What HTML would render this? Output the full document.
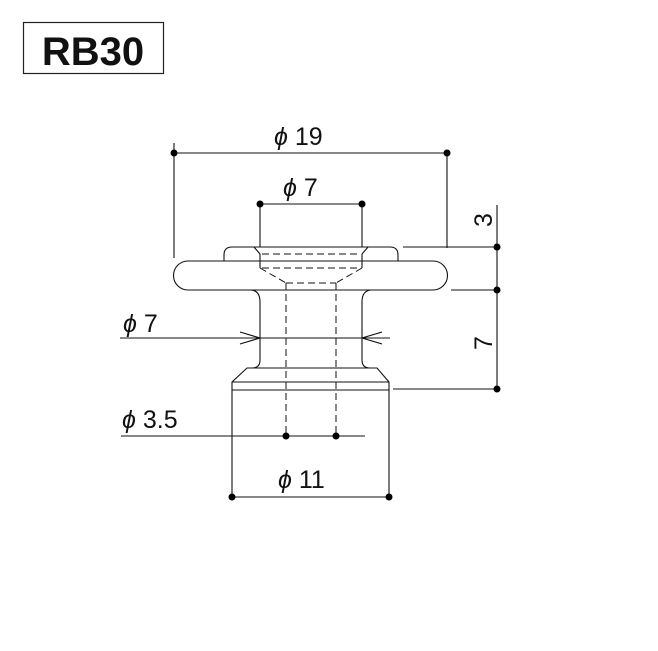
<!DOCTYPE html>
<html><head><style>
body{margin:0;background:#fff;}
svg{display:block;}
text{font-family:"Liberation Sans","DejaVu Sans",sans-serif;fill:#111;}
</style></head><body>
<svg width="658" height="651" viewBox="0 0 658 651" xmlns="http://www.w3.org/2000/svg">
<rect x="23.5" y="22.5" width="140" height="51" fill="#fff" stroke="#222" stroke-width="1.2"/>
<text x="93" y="65" font-size="40" font-weight="bold" text-anchor="middle">RB30</text>
<g stroke="#111" stroke-width="1.1" fill="none">
<line x1="174" y1="143" x2="174" y2="258"/>
<line x1="447" y1="153" x2="447" y2="248"/>
<line x1="174" y1="153" x2="447" y2="153"/>
<line x1="260" y1="204" x2="260" y2="247"/>
<line x1="362" y1="204" x2="362" y2="247"/>
<line x1="260" y1="204" x2="362" y2="204"/>
<path d="M224,261 L224,255 Q224,247 232,247 L390,247 Q398,247 398,255 L398,261"/>
<path d="M188,261 L433,261 A14.5,14.5 0 0 1 433,290 L188,290 A14.5,14.5 0 0 1 188,261 Z"/>
<line x1="254" y1="247" x2="260" y2="254"/>
<line x1="368" y1="247" x2="362" y2="254"/>
<line x1="260" y1="254" x2="260" y2="268"/>
<line x1="362" y1="254" x2="362" y2="268"/>
<path d="M250,290 Q260,290 260,302 L260,360 Q260,368 252,368"/>
<path d="M372,290 Q362,290 362,302 L362,360 Q362,368 370,368"/>
<path d="M247,368 L377,368 L389,382 L389,390 L232,390 L232,382 Z"/>
<line x1="232" y1="382" x2="389" y2="382"/>
</g>
<g stroke="#111" stroke-width="1" fill="none" stroke-dasharray="7,4">
<line x1="262" y1="254" x2="360" y2="254"/>
<line x1="262" y1="268" x2="360" y2="268"/>
<line x1="260" y1="268" x2="286" y2="283"/>
<line x1="362" y1="268" x2="336" y2="283"/>
<line x1="286" y1="283" x2="336" y2="283"/>
<line x1="286" y1="283" x2="286" y2="436"/>
<line x1="336" y1="283" x2="336" y2="436"/>
</g>
<g stroke="#111" stroke-width="1.1" fill="none">
<line x1="120" y1="338" x2="390" y2="338"/>
<path d="M240,332 L260,338 L240,344"/>
<path d="M382,332 L362,338 L382,344"/>
<line x1="497" y1="205" x2="497" y2="389"/>
<line x1="403" y1="247" x2="497" y2="247"/>
<line x1="451" y1="290" x2="497" y2="290"/>
<line x1="393" y1="389" x2="497" y2="389"/>
<line x1="121" y1="436" x2="365" y2="436"/>
<line x1="232" y1="390" x2="232" y2="497"/>
<line x1="389" y1="390" x2="389" y2="497"/>
<line x1="232" y1="497" x2="389" y2="497"/>
</g>
<g fill="#000">
<circle cx="174" cy="153" r="3.5"/><circle cx="447" cy="153" r="3.5"/>
<circle cx="260" cy="204" r="3.5"/><circle cx="362" cy="204" r="3.5"/>
<circle cx="497" cy="247" r="3.5"/><circle cx="497" cy="290" r="3.5"/><circle cx="497" cy="389" r="3.5"/>
<circle cx="286" cy="436" r="3.5"/><circle cx="336" cy="436" r="3.5"/>
<circle cx="232" cy="497" r="3.5"/><circle cx="389" cy="497" r="3.5"/>
</g>
<g font-size="25">
<text x="274" y="145"><tspan font-style="italic">ϕ</tspan> 19</text>
<text x="283" y="196"><tspan font-style="italic">ϕ</tspan> 7</text>
<text x="123" y="332"><tspan font-style="italic">ϕ</tspan> 7</text>
<text x="122" y="428"><tspan font-style="italic">ϕ</tspan> 3.5</text>
<text x="278" y="488"><tspan font-style="italic">ϕ</tspan> 11</text>
<text transform="translate(492,220) rotate(-90)" text-anchor="middle">3</text>
<text transform="translate(492,343) rotate(-90)" text-anchor="middle">7</text>
</g>
</svg>
</body></html>
